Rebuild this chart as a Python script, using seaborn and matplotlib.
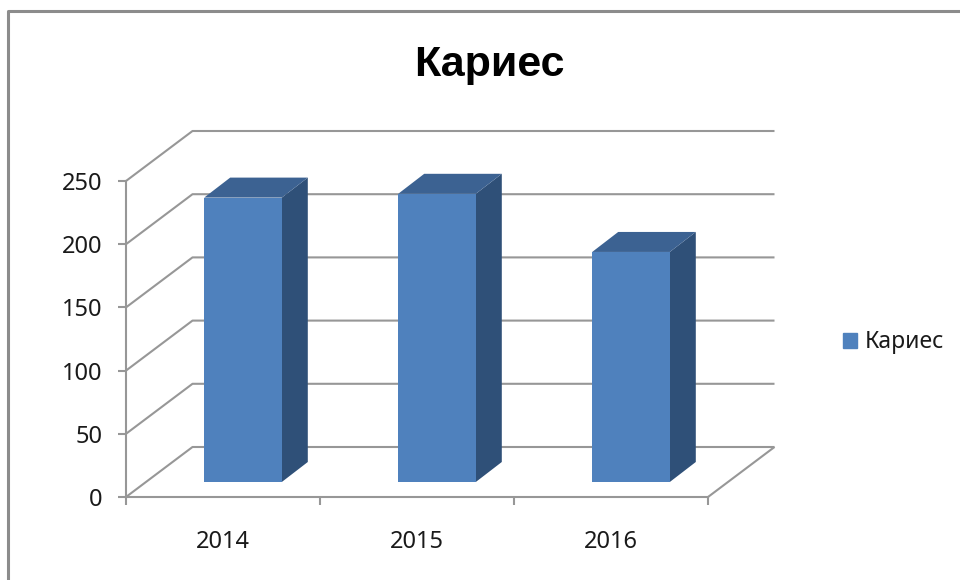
import matplotlib
matplotlib.use("Agg")
import matplotlib.pyplot as plt
from matplotlib.lines import Line2D
from matplotlib.patches import Patch
from matplotlib.transforms import Affine2D
import pandas as pd
import seaborn as sns

years = ["2014", "2015", "2016"]
values = [225, 228, 182]
series_name = "Кариес"
y_ticks = [0, 50, 100, 150, 200, 250]

FRONT, TOP, SIDE = "#4f81bd", "#3c6292", "#2f5078"
GRID = "#979797"
TEXT = "#1a1a1a"
W, H = 960, 580

sns.set_theme(style="white")
plt.rcParams["font.family"] = ["Noto Sans", "DejaVu Sans"]

fig = plt.figure(figsize=(9.6, 5.8), dpi=100, facecolor="white")
ax = fig.add_axes([126 / W, (H - 497) / H, (708 - 126) / W, (497 - 181) / H])
ax.patch.set_alpha(0)

df = pd.DataFrame({"year": years, "value": values})
sns.barplot(data=df, x="year", y="value", color=FRONT, saturation=1, width=0.4, ax=ax, zorder=4)
ax.set_xlim(-0.5, 2.5)
ax.set_ylim(0, 250)
ax.set_xlabel("")
ax.set_ylabel("")

px_x = 3 / (708 - 126)          # data units per pixel, horizontally
px_y = 250 / (497 - 181)        # data units per pixel, vertically
wall_dx, wall_dy = 66.5 * px_x, 50 * px_y
bar_dx, bar_dy = 20 * px_x, 15 * px_y
depth_dx, depth_dy = 26 * px_x, 20 * px_y

# Back wall, side wall and floor
line = dict(color=GRID, lw=1.5, clip_on=False, zorder=1, solid_capstyle="butt")
for v in y_ticks:
    ax.plot([-0.5, -0.5 + wall_dx, 2.5 + wall_dx], [v, v + wall_dy, v + wall_dy], **line)
ax.plot([2.5, 2.5 + wall_dx], [0, wall_dy], **line)

# Extruded bars
shift = Affine2D().translate(bar_dx, bar_dy) + ax.transData
for bar in ax.patches:
    x0, w, h = bar.get_x(), bar.get_width(), bar.get_height()
    bar.set_transform(shift)
    bar.set_clip_on(False)
    bar.set_edgecolor("none")
    bar.set_linewidth(0)
    x1 = x0 + w
    ax.fill([x1, x1 + depth_dx, x1 + depth_dx, x1],
            [0, depth_dy, h + depth_dy, h],
            color=SIDE, lw=0, clip_on=False, zorder=3, transform=shift)
    ax.fill([x0, x1, x1 + depth_dx, x0 + depth_dx],
            [h, h, h + depth_dy, h + depth_dy],
            color=TOP, lw=0, clip_on=False, zorder=3, transform=shift)

# Axes
sns.despine(ax=ax, top=True, right=True)
for side in ("left", "bottom"):
    ax.spines[side].set_color(GRID)
    ax.spines[side].set_linewidth(1.5)
ax.set_yticks(y_ticks)
ax.set_xticks([-0.5, 0.5, 1.5, 2.5])
ax.set_xticklabels([])
ax.set_xticks([0, 1, 2], labels=years, minor=True)
ax.tick_params(axis="both", which="major", length=5.8, width=1.5, color=GRID, bottom=True, left=True)
ax.tick_params(axis="y", labelsize=17, labelcolor=TEXT, pad=11)
ax.tick_params(axis="x", which="minor", length=0, labelsize=17, labelcolor=TEXT, pad=24, bottom=False)

# Title and legend
fig.text(489 / W, 1 - 65 / H, series_name, ha="center", va="center",
         fontsize=31, fontweight="bold", color="black", family="Liberation Sans")
ax.legend(handles=[Patch(color=FRONT, label=series_name)], frameon=False,
          loc="center left", bbox_to_anchor=(843 / W, 1 - 342.5 / H),
          bbox_transform=fig.transFigure, fontsize=16.5, labelcolor=TEXT,
          handlelength=0.6, handleheight=0.6, handletextpad=0.35,
          borderpad=0, borderaxespad=0)

# Chart frame, open at the right and bottom image edges
frame = dict(color="#8c8c8c", lw=2.2, transform=fig.transFigure, solid_capstyle="butt")
fig.add_artist(Line2D([8 / W, 8 / W, 1], [0, 1 - 11 / H, 1 - 11 / H], **frame))

fig.savefig("out.png", dpi=100, facecolor="white")
